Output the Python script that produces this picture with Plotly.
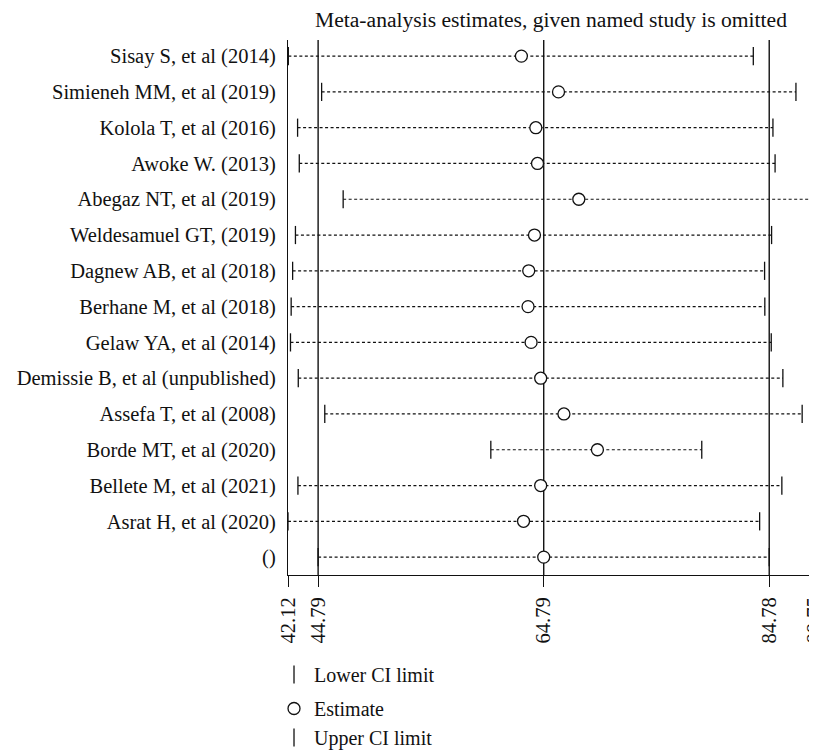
import plotly.graph_objects as go

studies = [
    "Sisay S, et al (2014)", "Simieneh MM, et al (2019)", "Kolola T, et al (2016)",
    "Awoke W. (2013)", "Abegaz NT, et al (2019)", "Weldesamuel GT, (2019)",
    "Dagnew AB, et al (2018)", "Berhane M, et al (2018)", "Gelaw YA, et al (2014)",
    "Demissie B, et al (unpublished)", "Assefa T, et al (2008)", "Borde MT, et al (2020)",
    "Bellete M, et al (2021)", "Asrat H, et al (2020)", "()",
]
estimates = [62.81, 66.10, 64.09, 64.24, 67.90, 63.97, 63.46, 63.40, 63.67, 64.52, 66.58, 69.55, 64.52, 63.00, 64.79]
lower_ci = [42.15, 45.10, 42.97, 43.12, 47.01, 42.78, 42.53, 42.40, 42.34, 43.03, 45.38, 60.10, 43.00, 42.12, 44.79]
upper_ci = [83.37, 87.15, 85.11, 85.30, 88.75, 84.99, 84.37, 84.39, 84.96, 85.99, 87.70, 78.80, 85.90, 83.93, 84.78]
x_ticks = [42.12, 44.79, 64.79, 84.78, 88.75]
x_ticktext = ["42.12", "44.79", "64.79", "84.78", "88.75"]
title_text = "Meta-analysis estimates, given named study is omitted"

FONT = "Liberation Serif"
INK = "#111111"
rows = list(range(len(studies)))

# dotted CI lines
lx, ly = [], []
for i, (lo, hi) in enumerate(zip(lower_ci, upper_ci)):
    lx += [lo, hi, None]
    ly += [i, i, None]

fig = go.Figure()
fig.add_trace(go.Scatter(x=lx, y=ly, mode="lines", showlegend=False, hoverinfo="skip",
                         line=dict(color=INK, width=1.2, dash="3px,2.5px")))
fig.add_trace(go.Scatter(x=lower_ci, y=rows, mode="markers", name="Lower CI limit",
                         legendgroup="a",
                         marker=dict(symbol="line-ns", size=13, line=dict(color=INK, width=1.3))))
fig.add_trace(go.Scatter(x=estimates, y=rows, mode="markers", name="Estimate",
                         legendgroup="b",
                         marker=dict(symbol="circle", size=12, color="white",
                                     line=dict(color=INK, width=1.3))))
fig.add_trace(go.Scatter(x=upper_ci, y=rows, mode="markers", name="Upper CI limit",
                         legendgroup="b",
                         marker=dict(symbol="line-ns", size=13, line=dict(color=INK, width=1.3))))

# vertical reference lines at overall lower CI, estimate, upper CI
for v in (lower_ci[-1], estimates[-1], upper_ci[-1]):
    fig.add_shape(type="line", xref="x", yref="paper", x0=v, x1=v, y0=0, y1=1,
                  line=dict(color=INK, width=1.4), layer="below")

fig.update_layout(
    width=809, height=742,
    margin=dict(l=280, r=3, t=32, b=175, autoexpand=False),
    paper_bgcolor="white", plot_bgcolor="white",
    font=dict(family=FONT, size=20, color=INK),
    title=dict(text=title_text, x=0.5, xref="paper", xanchor="center",
               y=1 - 11 / 742, yanchor="middle", font=dict(family=FONT, size=21.6, color=INK)),
    showlegend=True,
    legend=dict(x=-0.0266, xanchor="left", yref="container", y=1 - 647 / 742, yanchor="top",
                orientation="v",
                font=dict(family=FONT, size=20, color=INK), bgcolor="rgba(0,0,0,0)",
                tracegroupgap=5, traceorder="grouped"),
    xaxis=dict(range=[x_ticks[0], x_ticks[-1]], tickmode="array", tickvals=x_ticks,
               ticktext=x_ticktext, tickangle=-90, ticks="outside", ticklen=11,
               tickwidth=1.3, tickcolor=INK, showline=True, linecolor=INK, linewidth=1.3,
               showgrid=False, zeroline=False, automargin=False, ticklabelstandoff=2,
               ticklabeloverflow="allow",
               tickfont=dict(family=FONT, size=20.5, color=INK)),
    yaxis=dict(range=[14.5, -0.45], tickmode="array", tickvals=rows, ticktext=studies,
               ticks="", showline=True, linecolor=INK, linewidth=1.3, showgrid=False,
               zeroline=False, automargin=False, ticklabelstandoff=7,
               tickfont=dict(family=FONT, size=20.5, color=INK)),
)

fig.write_html("out.html")
